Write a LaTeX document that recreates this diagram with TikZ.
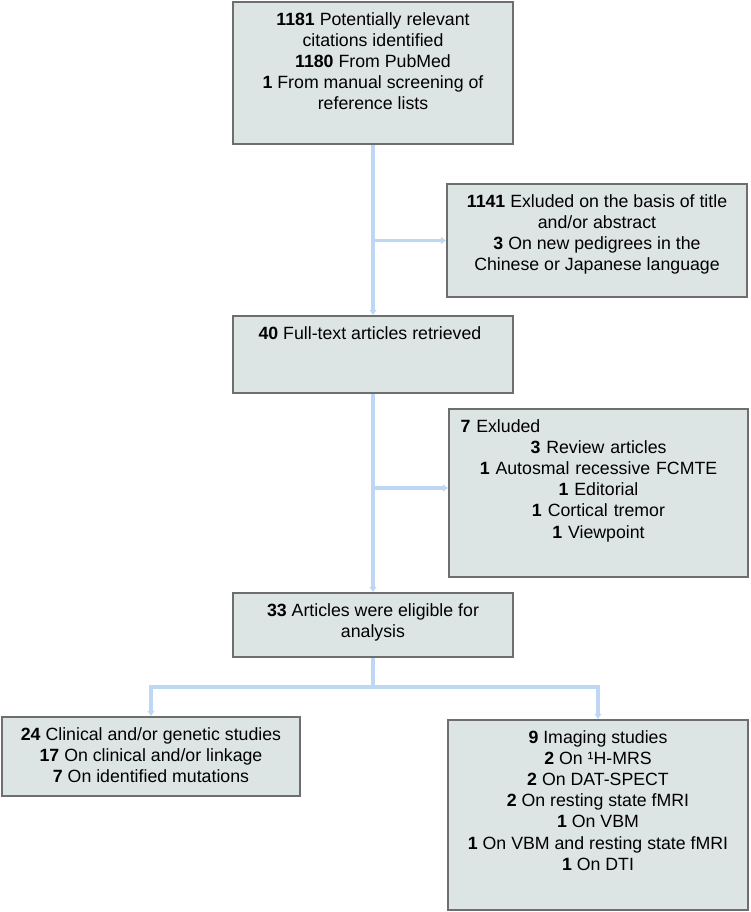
\documentclass[tikz,border=0pt]{standalone}
\usepackage{fontspec}
\setmainfont{Liberation Sans}
\usetikzlibrary{arrows.meta}
\definecolor{boxfill}{HTML}{DDE4E4}
\definecolor{boxline}{HTML}{6E6E6E}
\definecolor{linkblue}{HTML}{BDD7F4}
\begin{document}
\begin{tikzpicture}[x=0.75pt,y=-0.75pt,
  flowbox/.style={draw=boxline, line width=1.1pt, fill=boxfill, inner sep=0pt},
  txt/.style={font=\fontsize{13.3}{15.8}\selectfont, align=center, inner sep=0pt},
  link/.style={draw=linkblue, line width=2.3pt},
  arr/.style={link, -{Latex[length=4pt,width=6pt]}}]
\useasboundingbox (0,0) rectangle (750,912);
% boxes
\node[flowbox, minimum width=280*0.75pt, minimum height=142*0.75pt] (top) at (373,73) {};
\node[flowbox, minimum width=300*0.75pt, minimum height=113*0.75pt] (ex1) at (597,240.5) {};
\node[flowbox, minimum width=280*0.75pt, minimum height=77*0.75pt] (b40) at (373,354.5) {};
\node[flowbox, minimum width=299*0.75pt, minimum height=168*0.75pt] (ex2) at (598.5,493) {};
\node[flowbox, minimum width=280*0.75pt, minimum height=64*0.75pt] (b33) at (373,625) {};
\node[flowbox, minimum width=298*0.75pt, minimum height=79*0.75pt] (left) at (151,756.5) {};
\node[flowbox, minimum width=300*0.75pt, minimum height=190*0.75pt] (right) at (598,815) {};
% texts
\node[txt, anchor=north] (ttop) at ([yshift=-8.5pt]top.north) {\textbf{1181} Potentially relevant\\citations identified\\\textbf{1180} From PubMed\\\textbf{1} From manual screening of\\reference lists};
\node[txt, anchor=north] (tex1) at ([yshift=-8.5pt]ex1.north) {\textbf{1141} Exluded on the basis of title\\and/or abstract\\\textbf{3} On new pedigrees in the\\Chinese or Japanese language};
\node[txt, anchor=north west, align=left] (tb40) at ([xshift=19.5pt,yshift=-8.5pt]b40.north west) {\textbf{40} Full-text articles retrieved};
\node[txt, anchor=north, text width=276*0.75pt] (tex2) at ([yshift=-8.5pt]ex2.north) {\makebox[\linewidth][l]{\textbf{7} Exluded}\\\textbf{3} Review articles\\\textbf{1} Autosmal recessive FCMTE\\\textbf{1} Editorial\\\textbf{1} Cortical tremor\\\textbf{1} Viewpoint};
\node[txt, anchor=north] (tb33) at ([yshift=-8.5pt]b33.north) {\textbf{33} Articles were eligible for\\analysis};
\node[txt, anchor=north] (tleft) at ([yshift=-8.5pt]left.north) {\textbf{24} Clinical and/or genetic studies\\\textbf{17} On clinical and/or linkage\\\textbf{7} On identified mutations};
\node[txt, anchor=north] (tright) at ([yshift=-8.5pt]right.north) {\textbf{9} Imaging studies\\\textbf{2} On ¹H-MRS\\\textbf{2} On DAT-SPECT\\\textbf{2} On resting state fMRI\\\textbf{1} On VBM\\\textbf{1} On VBM and resting state fMRI\\\textbf{1} On DTI};
% connectors
\coordinate (j1) at (top.south |- ex1.west);
\coordinate (j2) at (373,488);
\coordinate (split) at (373,687);
\draw[arr] (top.south) -- (b40.north);
\draw[arr] (j1) -- (ex1.west);
\draw[arr] (b40.south) -- (b33.north);
\draw[arr] (j2) -- (j2 -| ex2.west);
\draw[link] (b33.south) -- (split);
\draw[arr] (split) -| (left.north);
\draw[arr] (split) -| (right.north);
\end{tikzpicture}
\end{document}
